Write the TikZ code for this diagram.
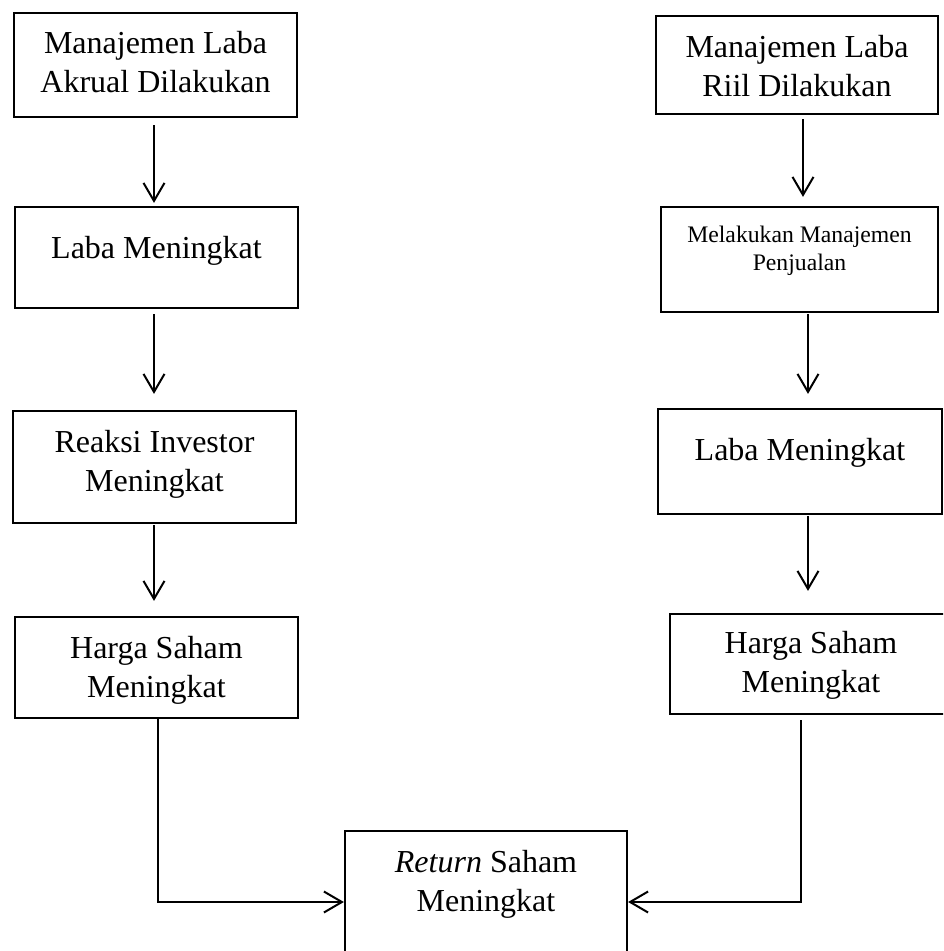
\documentclass[tikz,border=0pt]{standalone}
\usepackage{fontspec}
\setmainfont{Liberation Serif}
\usetikzlibrary{arrows.meta}
\begin{document}
\begin{tikzpicture}[x=1pt,y=-1pt]
\tikzset{
  box/.style={draw=black, line width=2.2pt, rectangle, inner sep=0pt},
  big/.style={font=\fontsize{32}{39}\selectfont, inner sep=0pt, anchor=base},
  small/.style={font=\fontsize{23.7}{28}\selectfont, inner sep=0pt, anchor=base},
  arr/.style={draw=black, line width=2pt, -{Straight Barb[length=18pt,width=21pt]}}
}
\useasboundingbox (0,0) rectangle (943,951);
\fill[white] (0,0) rectangle (943,951);
\clip (0,0) rectangle (943,951);

% left column
\node[box, minimum width=283pt, minimum height=104pt] (L1) at (155.5,65) {};
\node[big] (L1t) at (155.5,53) {\begin{tabular}[t]{@{}c@{}}Manajemen Laba\\Akrual Dilakukan\end{tabular}};
\node[box, minimum width=283pt, minimum height=101pt] (L2) at (156.5,257.5) {};
\node[big] (L2t) at (156.5,258) {Laba Meningkat};
\node[box, minimum width=283pt, minimum height=112pt] (L3) at (154.5,467) {};
\node[big] (L3t) at (154.5,452) {\begin{tabular}[t]{@{}c@{}}Reaksi Investor\\Meningkat\end{tabular}};
\node[box, minimum width=283pt, minimum height=101pt] (L4) at (156.5,667.5) {};
\node[big] (L4t) at (156.5,658) {\begin{tabular}[t]{@{}c@{}}Harga Saham\\Meningkat\end{tabular}};

% right column
\node[box, minimum width=282pt, minimum height=98pt] (R1) at (797,65) {};
\node[big] (R1t) at (797,57) {\begin{tabular}[t]{@{}c@{}}Manajemen Laba\\Riil Dilakukan\end{tabular}};
\node[box, minimum width=277pt, minimum height=105pt] (R2) at (799.5,259.5) {};
\node[small] (R2t) at (799.5,242) {\begin{tabular}[t]{@{}c@{}}Melakukan Manajemen\\Penjualan\end{tabular}};
\node[box, minimum width=284pt, minimum height=105pt] (R3) at (800,461.5) {};
\node[big] (R3t) at (800,460) {Laba Meningkat};
\node[box, minimum width=282pt, minimum height=100pt] (R4) at (811,664) {};
\node[big] (R4t) at (811,653) {\begin{tabular}[t]{@{}c@{}}Harga Saham\\Meningkat\end{tabular}};

% bottom
\node[box, minimum width=282pt, minimum height=129pt] (RS) at (486,895.5) {};
\node[big] (RSt) at (486,872) {\begin{tabular}[t]{@{}c@{}}\textit{Return} Saham\\Meningkat\end{tabular}};

% connectors
\draw[arr, shorten <=7pt, shorten >=3pt] ([xshift=-1.5pt]L1.south) -- ([xshift=-2.5pt]L2.north);
\draw[arr, shorten <=5pt, shorten >=16pt] ([xshift=-2.5pt]L2.south) -- ([xshift=-0.5pt]L3.north);
\draw[arr, shorten <=1pt, shorten >=15pt] ([xshift=-0.5pt]L3.south) -- ([xshift=-2.5pt]L4.north);
\draw[arr, shorten <=4pt, shorten >=9pt] ([xshift=6pt]R1.south) -- ([xshift=3.5pt]R2.north);
\draw[arr, shorten <=1pt, shorten >=14pt] ([xshift=8.5pt]R2.south) -- ([xshift=8pt]R3.north);
\draw[arr, shorten <=1pt, shorten >=22pt] ([xshift=8pt]R3.south) -- ([xshift=-3pt]R4.north);
\draw[arr] ([xshift=1.5pt]L4.south) |- ([yshift=-6.5pt]RS.west);
\draw[arr, shorten <=5pt] ([xshift=-10pt]R4.south) |- ([yshift=-6.5pt]RS.east);
\end{tikzpicture}
\end{document}
